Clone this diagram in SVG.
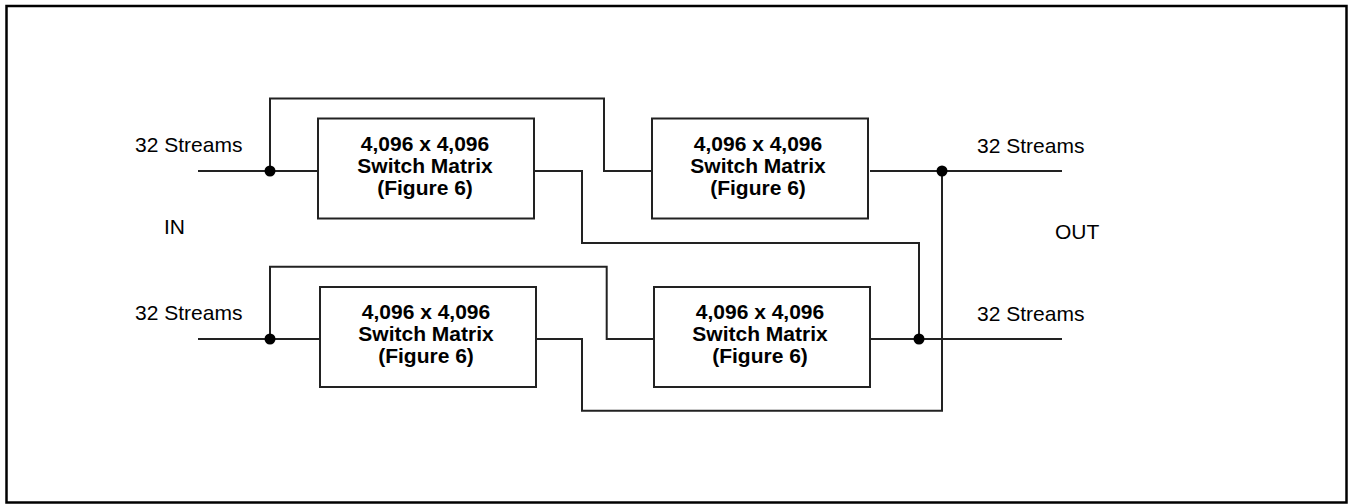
<svg xmlns="http://www.w3.org/2000/svg" width="1355" height="504" viewBox="0 0 1355 504">
<style>
.frame{fill:#fff;stroke:#000;stroke-width:2.5}
.box{fill:#fff;stroke:#222;stroke-width:2}
.wire{fill:none;stroke:#222;stroke-width:2}
.dot{fill:#000}
.lbl{font-family:"Liberation Sans",Arial,sans-serif;font-size:21px;fill:#000}
.btxt{font-family:"Liberation Sans",Arial,sans-serif;font-size:21px;font-weight:bold;fill:#000;text-anchor:middle}
</style>
<rect class="frame" x="6.5" y="6" width="1340" height="496.5"/>
<g id="connectors">
<path class="wire" d="M198 171 H318"/>
<path class="wire" d="M270 171 V98.5 H604 V171 H652"/>
<path class="wire" d="M534 171 H582 V243 H919 V339"/>
<path class="wire" d="M870 171 H1062"/>
<path class="wire" d="M942 171 V410.7 H582 V339 H536"/>
<path class="wire" d="M198 339 H320"/>
<path class="wire" d="M270 339 V266.7 H606.7 V339 H654"/>
<path class="wire" d="M870 339 H1062"/>
<circle class="dot" cx="270" cy="171" r="5.5"/>
<circle class="dot" cx="942" cy="171" r="5.5"/>
<circle class="dot" cx="270" cy="339" r="5.5"/>
<circle class="dot" cx="919" cy="339" r="5.5"/>
</g>
<g id="labels">
<text class="lbl" x="135" y="152">32 Streams</text>
<text class="lbl" x="164" y="234">IN</text>
<text class="lbl" x="135" y="320">32 Streams</text>
<text class="lbl" x="977" y="152.5">32 Streams</text>
<text class="lbl" x="1055" y="239">OUT</text>
<text class="lbl" x="977" y="320.5">32 Streams</text>
</g>
<g id="matrix1">
<rect class="box" x="318" y="118.5" width="216" height="100"/>
<text class="btxt" x="425" y="151">4,096 x 4,096</text>
<text class="btxt" x="425" y="173">Switch Matrix</text>
<text class="btxt" x="425" y="195">(Figure 6)</text>
</g>
<g id="matrix2">
<rect class="box" x="652" y="118.5" width="216" height="100"/>
<text class="btxt" x="758" y="151">4,096 x 4,096</text>
<text class="btxt" x="758" y="173">Switch Matrix</text>
<text class="btxt" x="758" y="195">(Figure 6)</text>
</g>
<g id="matrix3">
<rect class="box" x="320" y="287" width="216" height="100"/>
<text class="btxt" x="426" y="319">4,096 x 4,096</text>
<text class="btxt" x="426" y="341">Switch Matrix</text>
<text class="btxt" x="426" y="363">(Figure 6)</text>
</g>
<g id="matrix4">
<rect class="box" x="654" y="287" width="216" height="100"/>
<text class="btxt" x="760" y="319">4,096 x 4,096</text>
<text class="btxt" x="760" y="341">Switch Matrix</text>
<text class="btxt" x="760" y="363">(Figure 6)</text>
</g>
</svg>
